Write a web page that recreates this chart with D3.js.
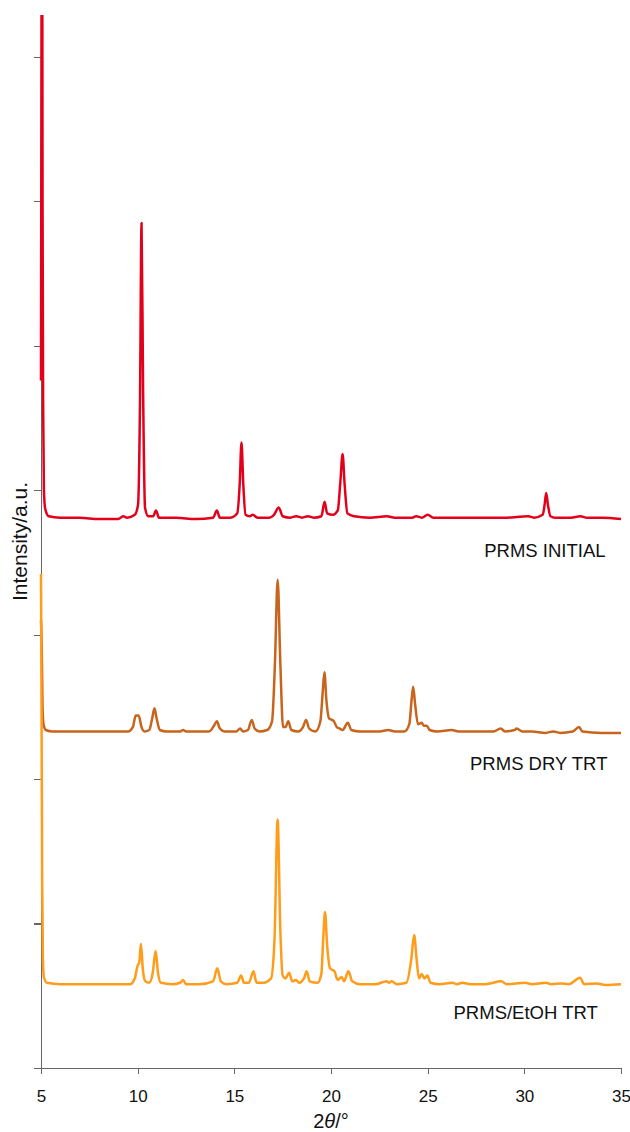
<!DOCTYPE html>
<html>
<head>
    <meta charset="utf-8">
    <style>
        body{
            margin: 0;
            background-color: white;
        }
        svg text{
            font-family: "Liberation Sans", Arial, Helvetica, sans-serif;
            fill: #111;
        }
        .axis path, .axis line{
            stroke: #666;
            stroke-width: 1.3px;
            shape-rendering: crispEdges;
        }
        .axis text{
            font-size: 17px;
        }
        .plotArea path{
            fill: none;
            stroke-width: 2.5px;
            stroke-linejoin: round;
        }
    </style>
</head>
<body>
    <svg class="vis"></svg>

    <script src="https://cdn.jsdelivr.net/npm/d3@7"></script>

    <script>

        var width = 630;
        var height = 1132;
        var margin = {left: 41, right: 9, top: 15, bottom: 64};

        // x axis: 2 theta, ticks every 5 degrees
        var xTicks = [5, 10, 15, 20, 25, 30, 35];
        // y axis: arbitrary units, unlabelled ticks
        var yTicks = [0, 1, 2, 3, 4, 5, 6, 7];

        // [2theta, intensity] (offsets already applied)
        var prmsInitial = [[5.00,4.76],[5.03,7.6],[5.05,9.0],[5.08,6.0],[5.11,4.6],[5.15,4.0],[5.22,3.87],[5.4,3.82],[6.0,3.81],
            [7.0,3.81],[8.0,3.80],[9.0,3.80],[9.25,3.82],[9.45,3.81],[9.85,3.83],[10.02,3.9],[10.12,4.6],[10.2,5.85],[10.28,4.7],
            [10.38,3.88],[10.55,3.82],[10.8,3.82],[10.95,3.86],[11.1,3.81],[12,3.81],[13,3.80],[13.9,3.81],[14.1,3.86],[14.25,3.81],
            [14.8,3.81],[15.15,3.84],[15.28,4.05],[15.37,4.33],[15.46,4.05],[15.58,3.83],[15.8,3.82],[15.95,3.83],[16.2,3.81],
            [16.8,3.81],[17.05,3.83],[17.3,3.88],[17.5,3.82],[17.9,3.81],[18.2,3.82],[18.5,3.81],[18.8,3.82],[19.1,3.81],[19.5,3.82],
            [19.67,3.92],[19.8,3.84],[20.1,3.83],[20.35,3.86],[20.48,4.05],[20.6,4.25],[20.7,4.05],[20.85,3.84],[21.2,3.82],[22,3.81],
            [22.9,3.82],[23.3,3.81],[24.2,3.81],[24.4,3.82],[24.7,3.81],[25.0,3.83],[25.3,3.81],[26,3.81],[27,3.81],[28,3.81],
            [29,3.81],[30.2,3.82],[30.5,3.81],[30.95,3.83],[31.05,3.9],[31.13,3.98],[31.22,3.9],[31.35,3.82],[31.6,3.81],
            [32.4,3.81],[32.9,3.82],[33.2,3.81],[34,3.81],[35,3.80]];

        var prmsDry = [[5.00,3.1],[5.04,2.9],[5.08,2.5],[5.13,2.38],[5.25,2.34],[5.6,2.33],[7,2.33],[8.5,2.33],[9.5,2.33],
            [9.75,2.36],[9.9,2.44],[10.05,2.44],[10.2,2.36],[10.35,2.33],[10.6,2.34],[10.75,2.42],[10.87,2.49],[10.98,2.42],
            [11.15,2.34],[11.5,2.33],[12.2,2.33],[12.35,2.34],[12.5,2.33],[13.7,2.33],[13.95,2.37],[14.1,2.40],[14.25,2.35],
            [14.5,2.33],[15.1,2.33],[15.3,2.35],[15.45,2.33],[15.7,2.34],[15.9,2.41],[16.05,2.35],[16.3,2.33],[16.7,2.34],
            [16.95,2.40],[17.1,2.8],[17.24,3.38],[17.38,2.8],[17.52,2.36],[17.65,2.36],[17.79,2.40],[17.95,2.34],[18.3,2.33],
            [18.55,2.36],[18.71,2.41],[18.87,2.35],[19.2,2.33],[19.45,2.40],[19.57,2.6],[19.66,2.74],[19.76,2.55],[19.9,2.42],
            [20.05,2.41],[20.15,2.40],[20.3,2.36],[20.45,2.35],[20.6,2.34],[20.87,2.39],[21.05,2.34],[21.5,2.33],[22.5,2.33],
            [22.97,2.34],[23.3,2.33],[23.8,2.33],[24.05,2.38],[24.17,2.55],[24.25,2.64],[24.35,2.52],[24.5,2.38],[24.69,2.39],
            [24.8,2.37],[24.95,2.37],[25.1,2.34],[25.5,2.33],[26.25,2.34],[26.6,2.33],[27.5,2.33],[28.4,2.33],[28.78,2.35],
            [29.0,2.33],[29.5,2.34],[29.6,2.35],[29.9,2.33],[30.4,2.33],[31.1,2.32],[31.5,2.33],[31.85,2.32],[32.5,2.33],
            [32.83,2.36],[33.0,2.33],[34,2.32],[35,2.32]];

        var prmsEtoh = [[5.00,3.42],[5.03,2.4],[5.06,1.3],[5.1,0.75],[5.15,0.63],[5.3,0.59],[6,0.58],[7,0.58],[8,0.58],[9,0.58],
            [9.6,0.58],[9.85,0.62],[10.0,0.71],[10.08,0.73],[10.17,0.86],[10.27,0.68],[10.4,0.6],[10.6,0.59],[10.78,0.66],
            [10.93,0.81],[11.05,0.66],[11.2,0.59],[11.8,0.58],[12.2,0.59],[12.35,0.61],[12.5,0.58],[13.2,0.58],[13.9,0.60],
            [14.12,0.69],[14.3,0.60],[14.6,0.58],[15.15,0.59],[15.35,0.64],[15.5,0.59],[15.75,0.59],[15.99,0.67],[16.15,0.59],
            [16.5,0.59],[16.9,0.62],[17.08,0.9],[17.24,1.72],[17.38,0.95],[17.5,0.64],[17.65,0.62],[17.83,0.66],[18.0,0.60],
            [18.19,0.61],[18.35,0.59],[18.6,0.62],[18.74,0.67],[18.9,0.60],[19.3,0.59],[19.5,0.65],[19.6,0.9],[19.69,1.08],
            [19.8,0.85],[19.95,0.69],[20.05,0.68],[20.18,0.67],[20.3,0.62],[20.35,0.61],[20.55,0.63],[20.67,0.60],[20.9,0.67],
            [21.1,0.60],[21.5,0.58],[22.3,0.58],[22.88,0.60],[23.0,0.59],[23.14,0.60],[23.4,0.58],[23.9,0.59],[24.15,0.75],
            [24.3,0.92],[24.43,0.75],[24.55,0.62],[24.69,0.65],[24.83,0.62],[24.98,0.64],[25.15,0.59],[25.6,0.58],[26.3,0.59],
            [26.5,0.58],[26.8,0.59],[27.2,0.58],[28.0,0.58],[28.8,0.60],[29.1,0.58],[30.04,0.59],[30.4,0.58],[31.12,0.59],
            [31.4,0.58],[31.88,0.585],[32.3,0.58],[32.88,0.625],[33.1,0.58],[33.74,0.585],[34.2,0.575],[35,0.58]];

        var seriesNames = ["PRMS INITIAL", "PRMS DRY TRT", "PRMS/EtOH TRT"];
        var seriesData = [prmsInitial, prmsDry, prmsEtoh];
        var seriesColors = ["#e2001a", "#c8641c", "#ff9c1a"];
        // label anchor: [2theta at right end, intensity at text baseline]
        var labelPos = [[34.2, 3.54], [34.3, 2.06], [33.8, 0.34]];

        var vis = d3.select("svg.vis")
                 .attr("width", width)
                 .attr("height", height);

        var x = d3.scaleLinear()
            .domain([5, 35])
            .range([margin.left, width - margin.right]);

        var y = d3.scaleLinear()
            .domain([0, 7.29])
            .range([height - margin.bottom, margin.top]);

        vis.append("defs").append("clipPath")
            .attr("id", "clip")
            .append("rect")
            .attr("x", margin.left - 5)
            .attr("y", margin.top)
            .attr("width", width - margin.left - margin.right + 10)
            .attr("height", height - margin.top - margin.bottom);

        // axes
        vis.append("g")
            .attr("class", "axis y-axis")
            .attr("transform", `translate(${margin.left},0)`)
            .call(d3.axisLeft(y).tickValues(yTicks).tickFormat("").tickSize(7).tickSizeOuter(0));

        vis.append("g")
            .attr("class", "axis x-axis")
            .attr("transform", `translate(0,${height - margin.bottom})`)
            .call(d3.axisBottom(x).tickValues(xTicks).tickSize(6).tickSizeOuter(0).tickPadding(16));

        var line = d3.line()
            .x(d => x(d[0]))
            .y(d => y(d[1]))
            .curve(d3.curveMonotoneX);

        var plot = vis.append("g")
            .attr("class", "plotArea")
            .attr("clip-path", "url(#clip)");

        seriesData.forEach(function(s, i){
            plot.append("path")
                .attr("d", line(s))
                .attr("stroke", seriesColors[i]);
        });

        seriesNames.forEach(function(n, i){
            vis.append("text")
                .attr("x", x(labelPos[i][0]))
                .attr("y", y(labelPos[i][1]))
                .attr("text-anchor", "end")
                .attr("font-size", "18.5px")
                .text(n);
        });

        // axis titles
        var xt = vis.append("text")
            .attr("x", x(20))
            .attr("y", 1128)
            .attr("text-anchor", "middle")
            .attr("font-size", "20px");
        xt.append("tspan").text("2");
        xt.append("tspan").attr("font-style", "italic").text("θ");
        xt.append("tspan").text("/°");

        vis.append("text")
            .attr("transform", `translate(27,${(y(0) + y(7.29)) / 2}) rotate(-90)`)
            .attr("text-anchor", "middle")
            .attr("font-size", "21px")
            .text("Intensity/a.u.");

    </script>
</body>
</html>
